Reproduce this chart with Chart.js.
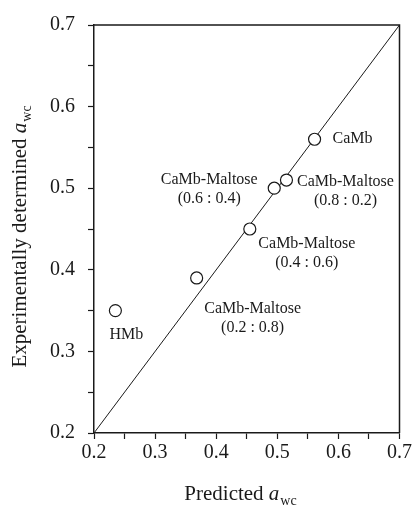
<!DOCTYPE html>
<html>
<head>
<meta charset="utf-8">
<script src="https://cdn.jsdelivr.net/npm/chart.js@4.4.0/dist/chart.umd.min.js"></script>
<style>
  body { margin: 0; background: #fff; }
  #wrap { width: 414px; height: 505px; }
</style>
</head>
<body>
<div id="wrap"><canvas id="chart"></canvas></div>
<script>
// values
const sampleNames = ['HMb', 'CaMb-Maltose\n(0.2 : 0.8)', 'CaMb-Maltose\n(0.4 : 0.6)',
                     'CaMb-Maltose\n(0.6 : 0.4)', 'CaMb-Maltose\n(0.8 : 0.2)', 'CaMb'];
const predicted = [0.235, 0.368, 0.455, 0.495, 0.515, 0.561];
const measured  = [0.350, 0.390, 0.450, 0.500, 0.510, 0.560];
const lineEnds  = [0.2, 0.7];   // 1:1 line
const axisMin = 0.2, axisMax = 0.7, majorStep = 0.1, minorStep = 0.05;

const serif = '"Liberation Serif", "Times New Roman", serif';
const ink = '#1a1a1a';

// where each name sits relative to its point (px), and its alignment
const labelPlace = [
    { dx: 11, dy: 24, align: 'center' },
    { dx: 56, dy: 31, align: 'center' },
    { dx: 57, dy: 15, align: 'center' },
    { dx: -65, dy: -8, align: 'center' },
    { dx: 59, dy: 2, align: 'center' },
    { dx: 18, dy: 0, align: 'left' }
];

// text like "Predicted a_wc" with italic a and subscript wc
function drawAwcTitle(ctx, prefix, x, y, size) {
    ctx.font = `${size}px ${serif}`;
    const w1 = ctx.measureText(prefix).width;
    ctx.font = `italic ${size}px ${serif}`;
    const w2 = ctx.measureText('a').width;
    ctx.font = `${Math.round(size * 0.65)}px ${serif}`;
    const w3 = ctx.measureText('wc').width;
    let start = x - (w1 + w2 + w3) / 2;
    ctx.textAlign = 'left';
    ctx.textBaseline = 'alphabetic';
    ctx.fillStyle = ink;
    ctx.font = `${size}px ${serif}`;
    ctx.fillText(prefix, start, y);
    ctx.font = `italic ${size}px ${serif}`;
    ctx.fillText('a', start + w1, y);
    ctx.font = `${Math.round(size * 0.65)}px ${serif}`;
    ctx.fillText('wc', start + w1 + w2 + 1, y + size * 0.22);
}

const extras = {
    id: 'extras',
    afterDraw(chart) {
        const { ctx, chartArea: a } = chart;
        ctx.save();
        // top and right frame
        ctx.strokeStyle = ink;
        ctx.lineWidth = 1.5;
        ctx.beginPath();
        ctx.moveTo(a.left, a.top);
        ctx.lineTo(a.right, a.top);
        ctx.lineTo(a.right, a.bottom);
        ctx.stroke();

        // point names
        const meta = chart.getDatasetMeta(1);
        ctx.font = `16px ${serif}`;
        ctx.fillStyle = ink;
        ctx.textBaseline = 'middle';
        meta.data.forEach((pt, i) => {
            const p = labelPlace[i];
            ctx.textAlign = p.align;
            sampleNames[i].split('\n').forEach((line, k) => {
                ctx.fillText(line, pt.x + p.dx, pt.y + p.dy + k * 19);
            });
        });

        // axis titles
        drawAwcTitle(ctx, 'Predicted ', 240, 500, 21);
        ctx.translate(26, 237);
        ctx.rotate(-Math.PI / 2);
        drawAwcTitle(ctx, 'Experimentally determined ', 0, 0, 21);
        ctx.restore();
    }
};

const tickLabel = v => {
    const r = Math.round(v * 100) / 100;
    return Math.abs(Math.round(r * 10) - r * 10) < 1e-6 ? r.toFixed(1) : '';
};

const axisCommon = {
    type: 'linear',
    min: axisMin,
    max: axisMax,
    grid: { drawOnChartArea: false, tickLength: 6, color: ink, tickWidth: 1.2 },
    border: { display: true, color: ink, width: 1.5 },
    ticks: { stepSize: minorStep, autoSkip: false, color: ink, font: { family: serif, size: 20 }, callback: tickLabel }
};

new Chart(document.getElementById('chart'), {
    type: 'scatter',
    data: {
        datasets: [
            {
                data: lineEnds.map(v => ({ x: v, y: v })),
                showLine: true,
                borderColor: ink,
                borderWidth: 1,
                pointRadius: 0,
                order: 2
            },
            {
                data: predicted.map((p, i) => ({ x: p, y: measured[i] })),
                pointStyle: 'circle',
                pointRadius: 6,
                pointBackgroundColor: '#fff',
                pointBorderColor: ink,
                pointBorderWidth: 1.2,
                order: 1
            }
        ]
    },
    options: {
        responsive: true,
        maintainAspectRatio: false,
        animation: false,
        layout: { padding: { top: 22, right: 14, left: 0, bottom: 0 } },
        plugins: { legend: { display: false }, tooltip: { enabled: false } },
        scales: {
            x: {
                ...axisCommon,
                ticks: { ...axisCommon.ticks, padding: 2, maxRotation: 0 },
                afterFit(scale) { scale.height = 72; }
            },
            y: {
                ...axisCommon,
                ticks: { ...axisCommon.ticks, padding: 13 },
                afterFit(scale) { scale.width = 94; }
            }
        }
    },
    plugins: [extras]
});
</script>
</body>
</html>
